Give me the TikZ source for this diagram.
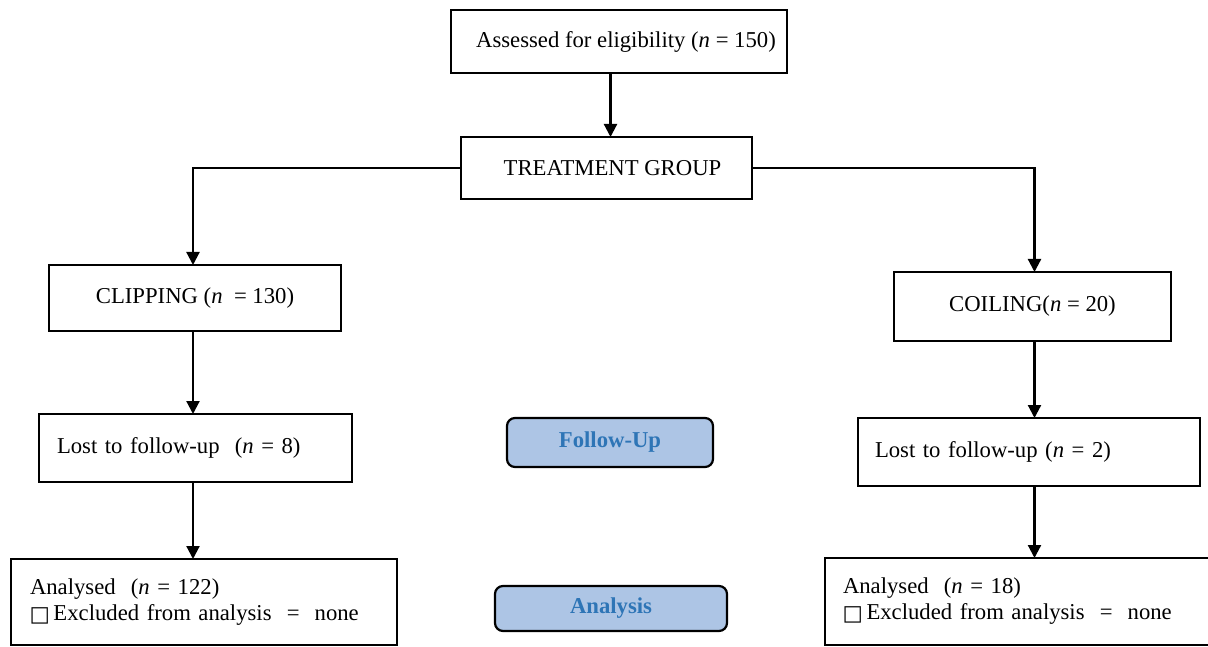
\documentclass[tikz,border=0pt]{standalone}
\usepackage{fontspec}
\setmainfont{Liberation Serif}
\newfontfamily\symfnt{DejaVu Sans}
\usetikzlibrary{arrows.meta}
\definecolor{lblue}{RGB}{173,197,229}
\definecolor{tblue}{RGB}{46,117,182}
\newcommand{\sq}{\makebox[23.5pt][l]{\hspace*{-0.5pt}\symfnt\fontsize{21.5}{21.5}\selectfont\raisebox{-1pt}{□}}}
\tikzset{
  box/.style={draw, line width=2.2pt, rectangle, anchor=north west, outer sep=0pt,
    font=\fontsize{22.7}{26}\selectfont},
  lbox/.style={box, align=left},
  phase/.style={draw, line width=2.2pt, rounded corners=8pt, fill=lblue, anchor=north west,
    outer sep=0pt, text=tblue, font=\fontsize{22.7}{26}\selectfont\bfseries},
  arr/.style={line width=2.2pt, -{Triangle[length=13pt,width=13pt]}},
}
\begin{document}
\begin{tikzpicture}[x=1pt,y=-1pt]
\useasboundingbox (0,0) rectangle (1208,647);
\node[box, minimum width=336pt, minimum height=63pt] (A) at (451,10)
  {\hspace*{14pt}Assessed for eligibility (\textit{n} = 150)};
\node[box, minimum width=291pt, minimum height=62pt] (T) at (461,137)
  {\hspace*{12pt}TREATMENT GROUP};
\node[box, minimum width=292pt, minimum height=66pt] (C) at (49,265)
  {CLIPPING (\textit{n}\ \ = 130)};
\node[box, minimum width=277pt, minimum height=69pt] (Co) at (894,272)
  {COILING(\textit{n} = 20)};
\node[lbox, inner xsep=18pt, text width=277pt, minimum height=68pt] (L1) at (39,414)
  {Lost to follow-up\ \ (\textit{n} = 8)};
\node[lbox, inner xsep=17pt, text width=308pt, minimum height=68pt] (L2) at (858,418)
  {Lost to follow-up (\textit{n} = 2)};
\node[phase, minimum width=206pt, minimum height=49pt] (F) at (507,418) {Follow-Up};
\node[phase, minimum width=232pt, minimum height=45pt] (An) at (495,586) {Analysis};
\node[lbox, inner xsep=19pt, text width=348pt, minimum height=86pt] (R1) at (11,559)
  {Analysed\ \ (\textit{n} = 122)\\ \sq Excluded from analysis\ \ =\ \ none};
\node[lbox, inner xsep=18pt, text width=351pt, minimum height=87pt] (R2) at (825,558)
  {Analysed\ \ (\textit{n} = 18)\\ \sq Excluded from analysis\ \ =\ \ none};
\draw[arr] ([xshift=4pt]T.north |- A.south) -- ([xshift=4pt]T.north);
\draw[arr] (T.west) -| ([xshift=-2pt]C.north);
\draw[arr] (T.east) -| ([xshift=2pt]Co.north);
\draw[arr] ([xshift=-2pt]C.south) -- ([xshift=-2pt]C.south |- L1.north);
\draw[arr] ([xshift=2pt]Co.south) -- ([xshift=2pt]Co.south |- L2.north);
\draw[arr] ([xshift=-2pt]C.south |- L1.south) -- ([xshift=-2pt]C.south |- R1.north);
\draw[arr] ([xshift=2pt]Co.south |- L2.south) -- ([xshift=2pt]Co.south |- R2.north);
\end{tikzpicture}
\end{document}
